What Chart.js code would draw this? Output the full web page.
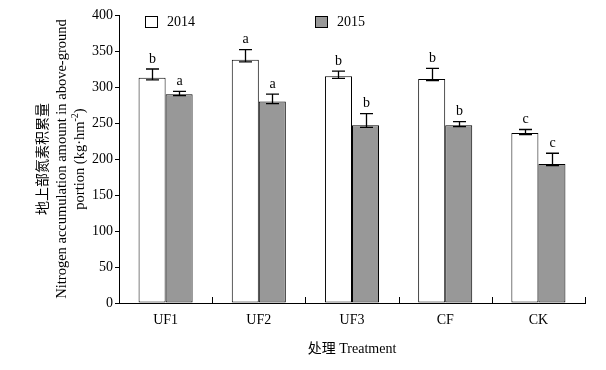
<!DOCTYPE html>
<html>
<head>
<meta charset="utf-8">
<script src="https://cdn.jsdelivr.net/npm/chart.js@4/dist/chart.umd.min.js"></script>
<style>
html,body{margin:0;padding:0;background:#fff;}
#wrap{width:606px;height:370px;}
</style>
</head>
<body>
<div id="wrap"><canvas id="c" width="606" height="370"></canvas></div>
<script>
const categories = ['UF1', 'UF2', 'UF3', 'CF', 'CK'];
const seriesNames = ['2014', '2015'];
const values2014 = [313, 338, 315, 311, 236];
const values2015 = [290, 280, 247, 247, 193];
const errUp2014 = [12, 14, 7, 15, 5];
const errUp2015 = [4, 10, 16, 5, 15];
const errLow2014 = [3, 3, 3, 2, 2];
const errLow2015 = [2, 3, 3, 2, 2];
const letters2014 = ['b', 'a', 'b', 'b', 'c'];
const letters2015 = ['a', 'a', 'b', 'b', 'c'];
const yTicks = [0, 50, 100, 150, 200, 250, 300, 350, 400];

const SERIF = '"Liberation Serif", "Times New Roman", serif';
const CJK = '"Liberation Serif", "Noto Sans CJK SC", serif';
const fillColors = ['#ffffff', '#989898'];

const decor = {
  id: 'decor',
  afterDatasetsDraw(chart) {
    const ctx = chart.ctx;
    const ys = chart.scales.y, xs = chart.scales.x;
    const ca = chart.chartArea;
    const errsUp = [errUp2014, errUp2015];
    const errsLow = [errLow2014, errLow2015];
    const letters = [letters2014, letters2015];
    const vals = [values2014, values2015];
    ctx.save();
    chart.data.datasets.forEach((ds, di) => {
      const meta = chart.getDatasetMeta(di);
      meta.data.forEach((bar, i) => {
        const x = Math.round(bar.x) + 0.5;
        const top = ys.getPixelForValue(vals[di][i] + errsUp[di][i]);
        const low = ys.getPixelForValue(vals[di][i] - errsLow[di][i]);
        ctx.strokeStyle = '#000';
        ctx.lineWidth = 1.3;
        ctx.beginPath();
        ctx.moveTo(x, top); ctx.lineTo(x, low);
        ctx.moveTo(x - 6.5, top); ctx.lineTo(x + 6.5, top);
        ctx.moveTo(x - 6.5, low); ctx.lineTo(x + 6.5, low);
        ctx.stroke();
        ctx.fillStyle = '#000';
        ctx.font = '14px ' + SERIF;
        ctx.textAlign = 'center';
        ctx.textBaseline = 'bottom';
        ctx.fillText(letters[di][i], x, top - 3);
      });
    });
    ctx.strokeStyle = '#000';
    ctx.lineWidth = 1;
    ctx.beginPath();
    for (let i = 0; i < categories.length; i++) {
      let bx;
      if (i < categories.length - 1) bx = (xs.getPixelForValue(i) + xs.getPixelForValue(i + 1)) / 2;
      else bx = ca.right;
      bx = Math.round(bx) + 0.5;
      ctx.moveTo(bx, ca.bottom);
      ctx.lineTo(bx, ca.bottom - 6);
    }
    ctx.stroke();
    const legendX = [145, 315];
    seriesNames.forEach((name, i) => {
      ctx.fillStyle = fillColors[i];
      ctx.strokeStyle = '#000';
      ctx.lineWidth = 1;
      ctx.fillRect(legendX[i] + 0.5, 16.5, 12, 11);
      ctx.strokeRect(legendX[i] + 0.5, 16.5, 12, 11);
      ctx.fillStyle = '#000';
      ctx.font = '14px ' + SERIF;
      ctx.textAlign = 'left';
      ctx.textBaseline = 'middle';
      ctx.fillText(name, legendX[i] + 22, 22);
    });
    ctx.textAlign = 'center';
    ctx.textBaseline = 'middle';
    ctx.font = '14px ' + CJK;
    ctx.fillText('处理 Treatment', (ca.left + ca.right) / 2, 349);
    const cy = (ca.top + ca.bottom) / 2;
    ctx.save();
    ctx.translate(43, cy);
    ctx.rotate(-Math.PI / 2);
    ctx.font = '14px ' + CJK;
    ctx.fillText('地上部氮素积累量', 0, 0);
    ctx.restore();
    ctx.save();
    ctx.translate(62, cy);
    ctx.rotate(-Math.PI / 2);
    ctx.font = '14.5px ' + SERIF;
    ctx.fillText('Nitrogen accumulation amount in above-ground', 0, 0);
    ctx.restore();
    ctx.save();
    ctx.translate(80, cy);
    ctx.rotate(-Math.PI / 2);
    const t1 = 'portion (kg\u00B7hm', t2 = '-2', t3 = ')';
    ctx.font = '14.5px ' + SERIF;
    const w1 = ctx.measureText(t1).width, w3 = ctx.measureText(t3).width;
    ctx.font = '10px ' + SERIF;
    const w2 = ctx.measureText(t2).width;
    let sx = -(w1 + w2 + w3) / 2;
    ctx.textAlign = 'left';
    ctx.font = '14.5px ' + SERIF;
    ctx.fillText(t1, sx, 0);
    ctx.font = '10px ' + SERIF;
    ctx.fillText(t2, sx + w1, -5);
    ctx.font = '14.5px ' + SERIF;
    ctx.fillText(t3, sx + w1 + w2, 0);
    ctx.restore();
    ctx.restore();
  }
};

new Chart(document.getElementById('c'), {
  type: 'bar',
  data: {
    labels: categories,
    datasets: [
      { label: seriesNames[0], data: values2014, backgroundColor: fillColors[0], borderColor: '#000', borderWidth: 1, borderSkipped: false },
      { label: seriesNames[1], data: values2015, backgroundColor: fillColors[1], borderColor: '#000', borderWidth: 1, borderSkipped: false }
    ]
  },
  options: {
    responsive: false,
    animation: false,
    devicePixelRatio: 1,
    layout: { padding: { left: 0, right: 21, top: 15, bottom: 0 } },
    datasets: { bar: { categoryPercentage: 0.58, barPercentage: 1.0 } },
    plugins: { legend: { display: false }, tooltip: { enabled: false } },
    scales: {
      x: {
        grid: { display: false, drawTicks: false },
        border: { display: true, color: '#000', width: 1 },
        ticks: { color: '#000', font: { family: SERIF, size: 14 }, padding: 9, maxRotation: 0 },
        afterFit(scale) { scale.height = 67; }
      },
      y: {
        min: 0, max: 400,
        afterBuildTicks(scale) { scale.ticks = yTicks.map(v => ({ value: v })); },
        grid: { display: true, drawOnChartArea: false, drawTicks: true, tickLength: 4, color: '#000' },
        border: { display: true, color: '#000', width: 1 },
        ticks: { color: '#000', font: { family: SERIF, size: 14 }, padding: 2 },
        afterFit(scale) { scale.width = 119; }
      }
    }
  },
  plugins: [decor]
});
</script>
</body>
</html>
